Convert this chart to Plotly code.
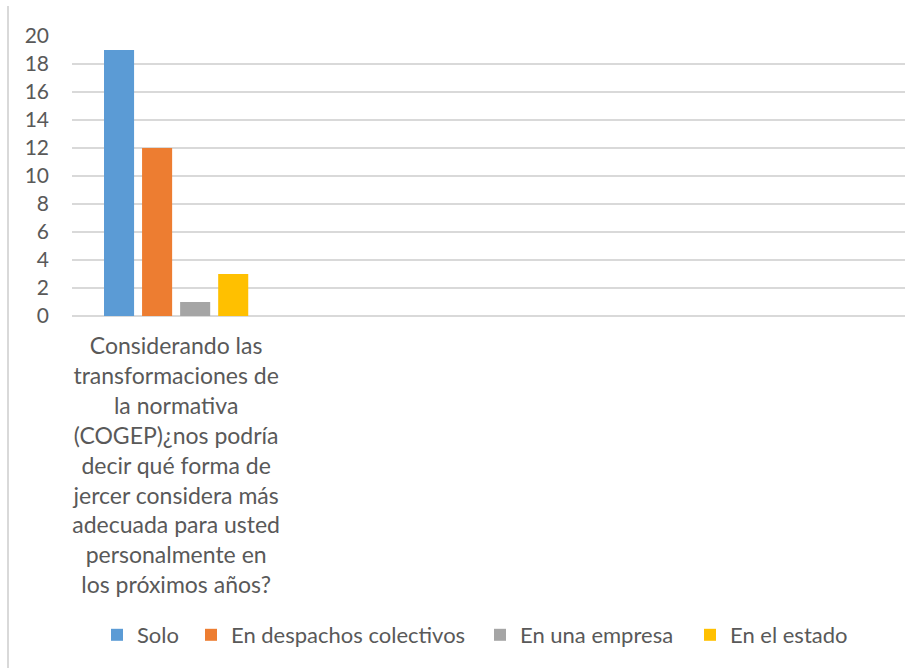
import plotly.graph_objects as go

# Survey question (single category) and the answer options
categories = [
    "Considerando las<br>transformaciones de<br>la normativa<br>(COGEP)¿nos podría<br>decir qué forma de<br>jercer considera más<br>adecuada para usted<br>personalmente en<br>los próximos años?"
]
series_names = ["Solo", "En despachos colectivos", "En una empresa", "En el estado"]
series_values = [[19], [12], [1], [3]]
series_colors = ["#5B9BD5", "#ED7D31", "#A5A5A5", "#FFC000"]
y_ticks = [0, 2, 4, 6, 8, 10, 12, 14, 16, 18, 20]

W, H = 920, 668
ML, MR, MT, MB = 72, 15, 36, 352
PW, PH = W - ML - MR, H - MT - MB

FONT = "Lato"
TXT = "#595959"
GRID = "#D9D9D9"

# left edge of each legend entry (px), one legend per series
legend_left_px = [97, 191, 480, 690]
legend_ids = ["legend", "legend2", "legend3", "legend4"]

fig = go.Figure()
for name, vals, col, lid in zip(series_names, series_values, series_colors, legend_ids):
    fig.add_trace(go.Bar(x=categories, y=vals, name=name, marker_color=col,
                         marker_line_width=0, legend=lid))

legend_layouts = {}
for lid, lx in zip(legend_ids, legend_left_px):
    legend_layouts[lid] = dict(
        orientation="h", xref="container", yref="container",
        x=lx / W, xanchor="left", y=(H - 635) / H, yanchor="middle",
        font=dict(family=FONT, size=22, color=TXT), itemclick=False,
        bgcolor="rgba(0,0,0,0)")

fig.update_layout(
    width=W, height=H,
    margin=dict(l=ML, r=MR, t=MT, b=MB, autoexpand=False),
    paper_bgcolor="white", plot_bgcolor="white",
    barmode="group", bargap=0.269, bargroupgap=0.21,
    font=dict(family=FONT, size=20, color=TXT),
    showlegend=True,
    **legend_layouts,
    xaxis=dict(type="category", range=[-0.5, 3.5], showgrid=False,
               showline=False, zeroline=False, ticks="", automargin=False,
               ticklabelstandoff=14, tickfont=dict(family=FONT, size=23, color=TXT)),
    yaxis=dict(range=[0, 20], tickvals=y_ticks, showgrid=True, gridcolor=GRID,
               gridwidth=1.5, zeroline=True, zerolinecolor=GRID, zerolinewidth=1.5,
               showline=False, ticks="", automargin=False, ticklabelstandoff=22,
               tickfont=dict(family=FONT, size=21, color=TXT)),
    shapes=[dict(type="line", xref="paper", yref="paper",
                 x0=(8 - ML) / PW, x1=(8 - ML) / PW,
                 y0=(H - MB - 6) / PH, y1=(H - MB - H) / PH,
                 line=dict(color=GRID, width=2))],
)

fig.write_html("out.html")
